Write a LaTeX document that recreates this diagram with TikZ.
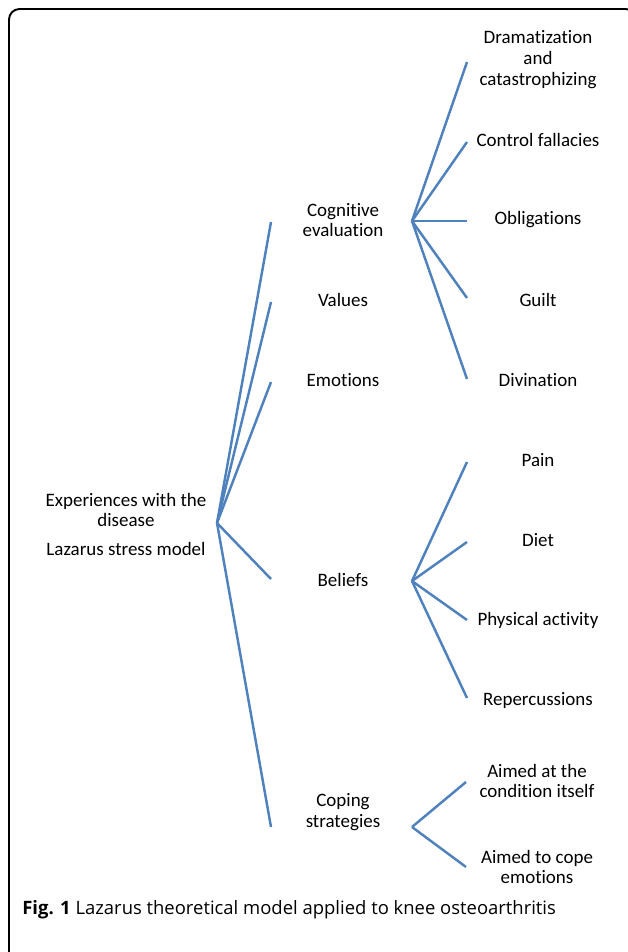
\documentclass[tikz,border=0pt]{standalone}
\usepackage{fontspec}
\setmainfont[Ligatures=NoCommon]{Carlito}
\newfontfamily\capfont{Open Sans}
\usetikzlibrary{positioning}
\definecolor{branchblue}{RGB}{79,129,189}
\tikzset{
    branch/.style={draw=branchblue, line width=1.4pt},
    lbl/.style={align=center, inner sep=0pt, font=\fontsize{10.8}{11.9}\selectfont},
  }
\begin{document}
\begin{tikzpicture}[x=0.02cm, y=-0.02cm]
  \useasboundingbox (0,0) rectangle (627,952);
  %FRAME
  \draw[line width=1.1pt, rounded corners=6pt] (9,9) rectangle (636,965);
  %ROOT
  \node[lbl] (root) at (126,510) {Experiences with the\\disease};
  \node[lbl] (model) at (126,549) {Lazarus stress model};
  \coordinate (J0) at (217,523);
  %LEVEL 1
  \node[lbl] (cog) at (343,220) {Cognitive\\evaluation};
  \node[lbl] (val) at (343,300) {Values};
  \node[lbl] (emo) at (343,380) {Emotions};
  \node[lbl] (bel) at (343,580) {Beliefs};
  \node[lbl] (cop) at (343,812) {Coping\\strategies};
  \coordinate (cog-in) at (271,222);
  \coordinate (val-in) at (271,302);
  \coordinate (emo-in) at (271,382);
  \coordinate (bel-in) at (271,579);
  \coordinate (cop-in) at (271,827);
  \draw[branch] (J0) -- (cog-in);
  \draw[branch] (J0) -- (val-in);
  \draw[branch] (J0) -- (emo-in);
  \draw[branch] (J0) -- (bel-in);
  \draw[branch] (J0) -- (cop-in);
  %COGNITIVE EVALUATION
  \coordinate (J1) at (412,221);
  \node[lbl] (dram) at (538,60) {Dramatization\\and\\catastrophizing};
  \node[lbl] (ctrl) at (538,140) {Control fallacies};
  \node[lbl] (obl) at (538,220) {Obligations};
  \node[lbl] (guilt) at (538,300) {Guilt};
  \node[lbl] (div) at (538,380) {Divination};
  \coordinate (dram-in) at (467,62);
  \coordinate (ctrl-in) at (467,142);
  \coordinate (obl-in) at (467,221);
  \coordinate (guilt-in) at (467,298);
  \coordinate (div-in) at (467,379);
  \draw[branch] (J1) -- (dram-in);
  \draw[branch] (J1) -- (ctrl-in);
  \draw[branch] (J1) -- (obl-in);
  \draw[branch] (J1) -- (guilt-in);
  \draw[branch] (J1) -- (div-in);
  %BELIEFS
  \coordinate (J2) at (412,581);
  \node[lbl] (pain) at (538,460) {Pain};
  \node[lbl] (diet) at (538,540) {Diet};
  \node[lbl] (phys) at (538,620) {Physical activity};
  \node[lbl] (rep) at (538,700) {Repercussions};
  \coordinate (pain-in) at (467,462);
  \coordinate (diet-in) at (467,542);
  \coordinate (phys-in) at (467,620);
  \coordinate (rep-in) at (467,698);
  \draw[branch] (J2) -- (pain-in);
  \draw[branch] (J2) -- (diet-in);
  \draw[branch] (J2) -- (phys-in);
  \draw[branch] (J2) -- (rep-in);
  %COPING STRATEGIES
  \coordinate (J3) at (412,827);
  \node[lbl] (cond) at (537,781) {Aimed at the\\condition itself};
  \node[lbl] (cope) at (537,867) {Aimed to cope\\emotions};
  \coordinate (cond-in) at (466,782);
  \coordinate (cope-in) at (466,867);
  \draw[branch] (J3) -- (cond-in);
  \draw[branch] (J3) -- (cope-in);
  %CAPTION
  \node[anchor=west, inner sep=0pt, font=\capfont\fontsize{10.5}{12}\selectfont] (caption) at (22,910)
    {\textbf{Fig. 1} Lazarus theoretical model applied to knee osteoarthritis};
\end{tikzpicture}
\end{document}
